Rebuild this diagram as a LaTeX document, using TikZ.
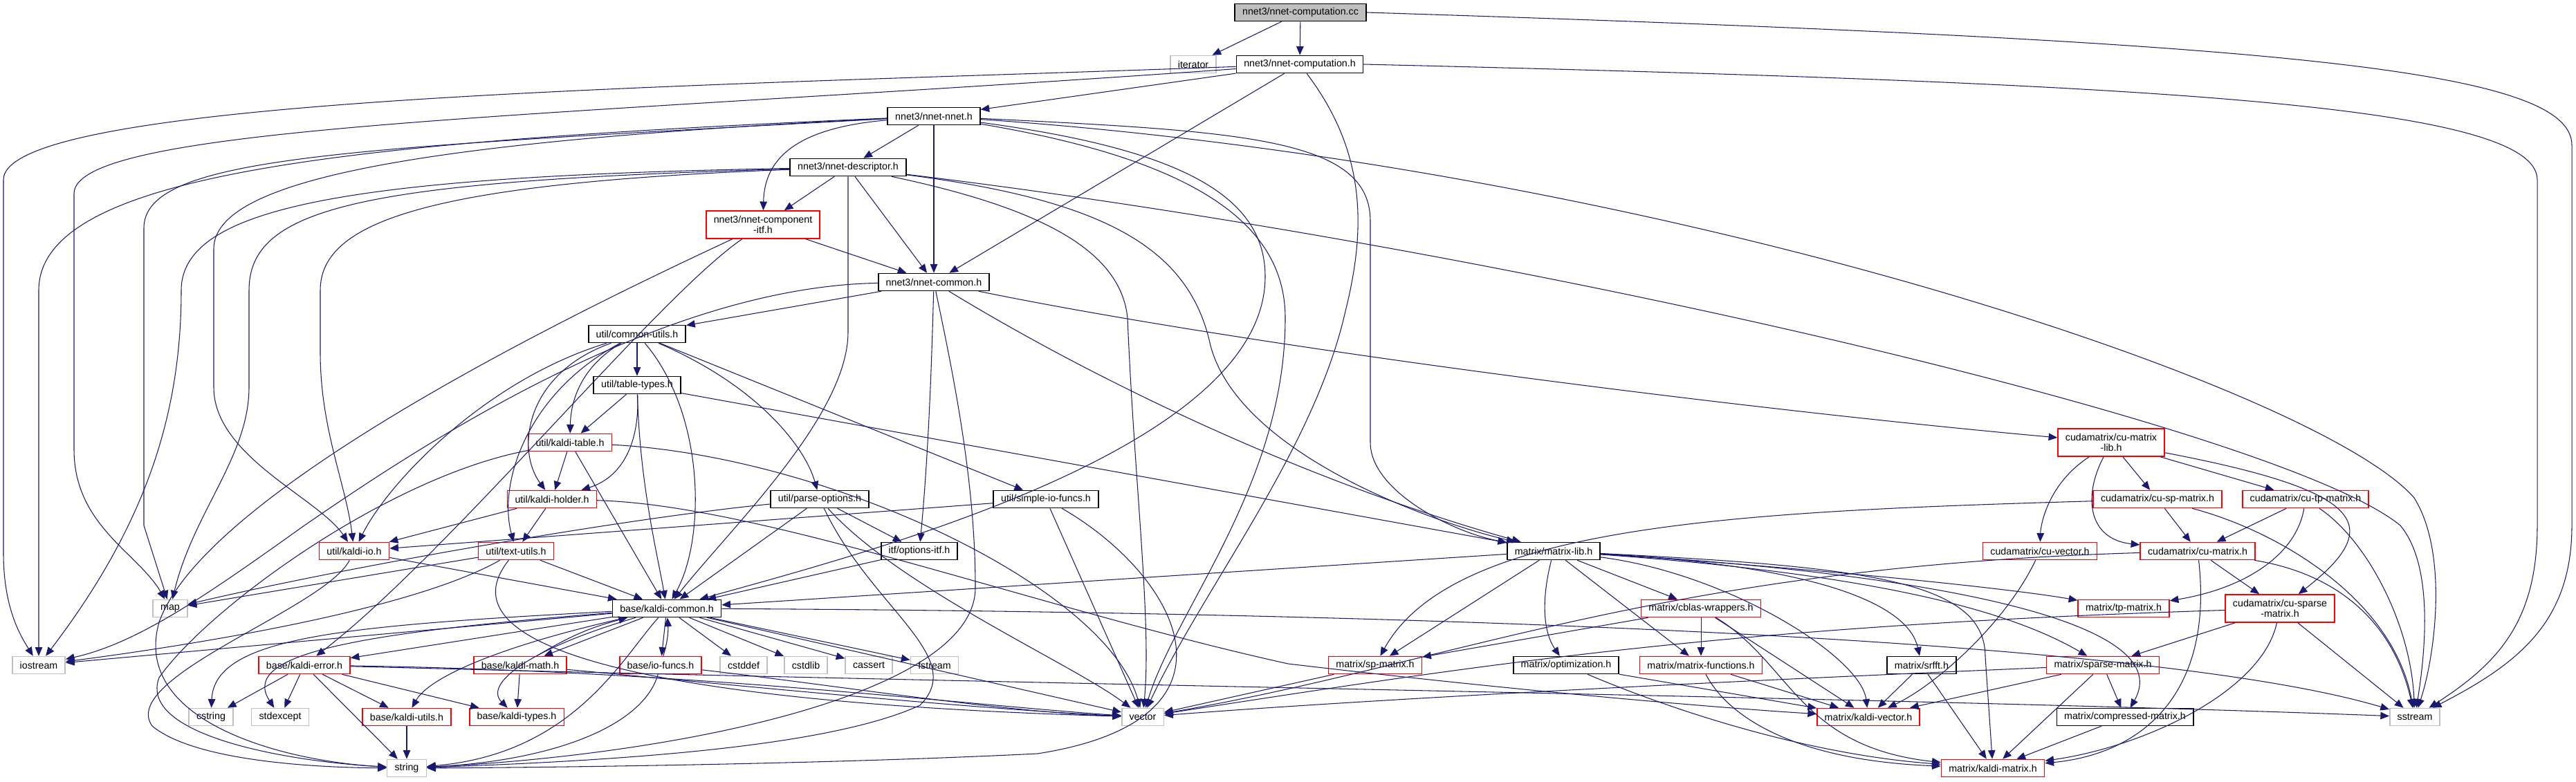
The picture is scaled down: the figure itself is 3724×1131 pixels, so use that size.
\documentclass[tikz,border=0pt]{standalone}
\usepackage{fontspec}
\usetikzlibrary{arrows.meta}
\newfontfamily\dotfont{Liberation Sans}
\definecolor{edgeblue}{HTML}{191970}
\definecolor{sysgray}{HTML}{BFBFBF}

\begin{document}
\begin{tikzpicture}[x=0.01cm, y=-0.01cm,
    hdr/.style={draw=black, line width=0.45pt, fill=white, inner xsep=3.1pt, inner ysep=0pt,
      minimum height=0.25cm, align=center, font=\dotfont\fontsize{4.05pt}{4.3pt}\selectfont},
    trunc/.style={hdr, draw=red},
    sys/.style={hdr, draw=sysgray},
    root/.style={hdr, fill=sysgray},
    tall/.style={minimum height=0.40cm},
    dep/.style={draw=edgeblue, line width=0.3pt, -{Triangle[length=3.6pt, width=3pt]}}]

\useasboundingbox (0,0) rectangle (3724,1131);

%
\node[root] (cc) at (1880,18) {nnet3/nnet-computation.cc};
\node[sys] (iterator) at (1725,93) {iterator};
\node[hdr] (comph) at (1879,93) {nnet3/nnet-computation.h};
\node[hdr] (nnet) at (1350,168) {nnet3/nnet-nnet.h};
\node[hdr] (desc) at (1226,242) {nnet3/nnet-descriptor.h};
\node[trunc, tall] (compitf) at (1103,325) {nnet3/nnet-component\\-itf.h};
\node[hdr] (ncommon) at (1350,408) {nnet3/nnet-common.h};
\node[hdr] (cutils) at (921,483) {util/common-utils.h};
\node[hdr] (ttypes) at (921,557) {util/table-types.h};
\node[trunc] (ktable) at (824,640) {util/kaldi-table.h};
\node[trunc, tall] (cumlib) at (3052,640) {cudamatrix/cu-matrix\\-lib.h};
\node[trunc] (kholder) at (798,722) {util/kaldi-holder.h};
\node[hdr] (popts) at (1185,722) {util/parse-options.h};
\node[hdr] (sio) at (1512,722) {util/simple-io-funcs.h};
\node[trunc] (cusp) at (3119,722) {cudamatrix/cu-sp-matrix.h};
\node[trunc] (cutp) at (3333,722) {cudamatrix/cu-tp-matrix.h};

%
\node[trunc] (kio) at (512,797) {util/kaldi-io.h};
\node[trunc] (tutils) at (746,797) {util/text-utils.h};
\node[hdr] (oitf) at (1329,797) {itf/options-itf.h};
\node[hdr] (mlib) at (2246,797) {matrix/matrix-lib.h};
\node[trunc] (cuvec) at (2949,797) {cudamatrix/cu-vector.h};
\node[trunc] (cumat) at (3177,797) {cudamatrix/cu-matrix.h};
\node[sys] (map) at (246,880) {map};
\node[hdr] (kcommon) at (964,880) {base/kaldi-common.h};
\node[trunc] (cblas) at (2459,880) {matrix/cblas-wrappers.h};
\node[trunc] (tpmat) at (3070,880) {matrix/tp-matrix.h};
\node[trunc, tall] (cusparse) at (3296,880) {cudamatrix/cu-sparse\\-matrix.h};

%
\node[sys] (iostream) at (56,962) {iostream};
\node[trunc] (kerror) at (440,962) {base/kaldi-error.h};
\node[trunc] (kmath) at (752,962) {base/kaldi-math.h};
\node[trunc] (iofuncs) at (955,962) {base/io-funcs.h};
\node[sys] (cstddef) at (1075,962) {cstddef};
\node[sys] (cstdlib) at (1165,962) {cstdlib};
\node[sys] (cassert) at (1256,962) {cassert};
\node[sys] (fstream) at (1351,962) {fstream};
\node[trunc] (spmat) at (1988,962) {matrix/sp-matrix.h};
\node[hdr] (optim) at (2264,962) {matrix/optimization.h};
\node[trunc] (mfunc) at (2459,962) {matrix/matrix-functions.h};
\node[hdr] (srfft) at (2778,962) {matrix/srfft.h};
\node[trunc] (sparse) at (3040,962) {matrix/sparse-matrix.h};

%
\node[sys] (cstring) at (305,1037) {cstring};
\node[sys] (stdexcept) at (405,1037) {stdexcept};
\node[trunc] (kutils) at (588,1037) {base/kaldi-utils.h};
\node[trunc] (ktypes) at (747,1037) {base/kaldi-types.h};
\node[sys] (vector) at (1652,1037) {vector};
\node[trunc] (kvector) at (2701,1037) {matrix/kaldi-vector.h};
\node[hdr] (compr) at (3072,1037) {matrix/compressed-matrix.h};
\node[sys] (sstream) at (3491,1037) {sstream};
\node[sys] (string) at (588,1111) {string};
\node[trunc] (kmatrix) at (2881,1111) {matrix/kaldi-matrix.h};

% nnet3/nnet-computation.cc
\draw[dep] (cc) -- (iterator);
\draw[dep] (cc) -- (comph);
\draw[dep] (cc.east) .. controls (3300,60) and (3718,100) .. (3718,210) -- (3718,760)
    .. controls (3718,900) and (3640,960) .. (sstream);

% nnet3/nnet-computation.h
\draw[dep] (comph) -- (nnet);
\draw[dep] (comph) -- (ncommon);
\draw[dep] (comph.east) .. controls (3100,120) and (3668,150) .. (3668,260) -- (3668,760)
    .. controls (3668,900) and (3610,960) .. (sstream);
\draw[dep] (comph) .. controls (1975,220) and (1975,330) .. (1945,450)
    .. controls (1900,650) and (1740,850) .. (vector);
\draw[dep] (comph) .. controls (1000,125) and (5,140) .. (5,260) -- (5,800)
    .. controls (5,880) and (30,920) .. (iostream);
\draw[dep] (comph) .. controls (800,170) and (107,180) .. (107,280) -- (107,650)
    .. controls (107,760) and (200,800) .. (map);

% nnet3/nnet-nnet.h
\draw[dep] (nnet) -- (desc);
\draw[dep] (nnet) .. controls (1150,185) and (1105,230) .. (compitf);
\draw[dep] (nnet) -- (ncommon);
\draw[dep] (nnet) .. controls (1800,190) and (1981,200) .. (1981,320) -- (1981,640)
    .. controls (1981,710) and (2100,770) .. (mlib);
\draw[dep] (nnet) .. controls (1700,215) and (1829,280) .. (1829,400)
    .. controls (1829,650) and (1250,800) .. (kcommon);
\draw[dep] (nnet) .. controls (1720,230) and (1858,320) .. (1858,460)
    .. controls (1858,700) and (1700,880) .. (vector);
\draw[dep] (nnet) .. controls (2400,240) and (3350,560) .. (3490,720)
    .. controls (3540,800) and (3520,950) .. (sstream);
\draw[dep] (nnet) .. controls (500,205) and (56,250) .. (56,420) -- (iostream);
\draw[dep] (nnet) .. controls (500,215) and (208,225) .. (208,330) -- (208,760) -- (map);
\draw[dep] (nnet) .. controls (600,205) and (309,260) .. (309,360) -- (309,560)
    .. controls (309,660) and (460,720) .. (kio);

% nnet3/nnet-descriptor.h
\draw[dep] (desc) -- (compitf);
\draw[dep] (desc) -- (ncommon);
\draw[dep] (desc) -- (1226,480) .. controls (1226,600) and (1060,760) .. (kcommon);
\draw[dep] (desc) .. controls (1500,300) and (1620,360) .. (1630,460)
    .. controls (1640,700) and (1665,900) .. (vector);
\draw[dep] (desc) .. controls (1600,290) and (1720,360) .. (1750,500)
    .. controls (1790,650) and (2050,750) .. (mlib);
\draw[dep] (desc) .. controls (2200,360) and (3300,620) .. (3470,760)
    .. controls (3520,820) and (3505,950) .. (sstream);
\draw[dep] (desc) .. controls (500,255) and (262,300) .. (262,420)
    .. controls (262,600) and (210,760) .. (iostream);
\draw[dep] (desc) .. controls (520,262) and (360,300) .. (360,420) -- (360,560)
    .. controls (360,660) and (280,740) .. (map);
\draw[dep] (desc) .. controls (620,265) and (463,320) .. (463,420) -- (463,510)
    .. controls (463,620) and (500,700) .. (kio);

% nnet3/nnet-component-itf.h
\draw[dep] (compitf) -- (ncommon);
\draw[dep] (compitf) .. controls (900,420) and (300,700) .. (230,900)
    .. controls (190,1040) and (400,1100) .. (string);
\draw[dep] (compitf) .. controls (950,430) and (650,800) .. (kerror);

% nnet3/nnet-common.h
\draw[dep] (ncommon) -- (cutils);
\draw[dep] (ncommon) .. controls (1800,500) and (2500,590) .. (cumlib);
\draw[dep] (ncommon) .. controls (1600,560) and (1900,700) .. (mlib);
\draw[dep] (ncommon) .. controls (1345,600) and (1338,700) .. (oitf);
\draw[dep] (ncommon) .. controls (1380,550) and (1410,700) .. (1410,850)
    .. controls (1410,1000) and (1000,1090) .. (string);
\draw[dep] (ncommon) .. controls (950,415) and (600,650) .. (440,760)
    .. controls (300,860) and (200,930) .. (iostream);

% util/common-utils.h
\draw[dep] (cutils) -- (ttypes);
\draw[dep] (cutils) .. controls (840,530) and (825,580) .. (ktable);
\draw[dep] (cutils) .. controls (760,540) and (745,650) .. (kholder);
\draw[dep] (cutils) .. controls (1100,560) and (1165,650) .. (popts);
\draw[dep] (cutils) -- (sio);
\draw[dep] (cutils) .. controls (700,550) and (560,700) .. (kio);
\draw[dep] (cutils) .. controls (760,570) and (720,700) .. (tutils);
\draw[dep] (cutils) .. controls (1020,600) and (1020,780) .. (kcommon);

% util/table-types.h
\draw[dep] (ttypes) -- (ktable);
\draw[dep] (ttypes) .. controls (925,640) and (900,690) .. (kholder);
\draw[dep] (ttypes) .. controls (925,700) and (950,800) .. (kcommon);
\draw[dep] (ttypes) -- (mlib);

% util/kaldi-table.h
\draw[dep] (ktable) -- (kholder);
\draw[dep] (ktable) -- (kcommon);
\draw[dep] (ktable) .. controls (560,690) and (300,880) .. (230,980)
    .. controls (200,1060) and (400,1100) .. (string);
\draw[dep] (ktable) .. controls (1200,660) and (1600,850) .. (vector);

% util/kaldi-holder.h
\draw[dep] (kholder) -- (kio);
\draw[dep] (kholder) -- (tutils);
\draw[dep] (kholder) .. controls (1100,730) and (1500,880) .. (1862,960)
    .. controls (2200,1000) and (2500,1025) .. (kvector);

% util/parse-options.h
\draw[dep] (popts) .. controls (900,750) and (500,820) .. (map);
\draw[dep] (popts) -- (oitf);
\draw[dep] (popts) -- (kcommon);
\draw[dep] (popts) .. controls (1300,850) and (1550,960) .. (vector);
\draw[dep] (popts) .. controls (1260,880) and (1400,950) .. (1330,1020)
    .. controls (1200,1080) and (900,1100) .. (string);

% util/simple-io-funcs.h
\draw[dep] (sio) -- (kio);
\draw[dep] (sio) -- (vector);
\draw[dep] (sio) .. controls (1700,830) and (1820,1040) .. (1500,1090)
    .. controls (1200,1105) and (800,1110) .. (string);

% util/kaldi-io.h, util/text-utils.h, itf/options-itf.h
\draw[dep] (kio) -- (kcommon);
\draw[dep] (kio) .. controls (470,880) and (170,980) .. (220,1050)
    .. controls (280,1100) and (450,1110) .. (string);
\draw[dep] (tutils) -- (kcommon);
\draw[dep] (tutils) -- (map);
\draw[dep] (tutils) .. controls (600,880) and (300,930) .. (iostream);
\draw[dep] (tutils) .. controls (640,930) and (900,1015) .. (vector);
\draw[dep] (oitf) -- (kcommon);

% base/kaldi-common.h
\foreach \t in {cstddef, cstdlib, cassert, fstream, iostream, kerror, kmath, iofuncs, vector}
  \draw[dep] (kcommon) -- (\t);
\draw[dep] (kcommon) .. controls (500,905) and (310,920) .. (cstring);
\draw[dep] (kcommon) .. controls (520,915) and (345,945) .. (stdexcept);
\draw[dep] (kcommon) .. controls (720,935) and (620,980) .. (kutils);
\draw[dep] (kcommon) .. controls (760,940) and (700,990) .. (ktypes);
\draw[dep] (kcommon) .. controls (900,950) and (830,1090) .. (string);
\draw[dep] (kcommon) .. controls (2000,885) and (3100,920) .. (sstream);

% base/
\foreach \t in {cstring, stdexcept, kutils, ktypes, string}
  \draw[dep] (kerror) -- (\t);
\draw[dep] (kerror) .. controls (1500,990) and (2800,1010) .. (sstream);
\draw[dep] (kerror) .. controls (1000,970) and (1400,1020) .. (vector);
\draw[dep] (kmath) -- (ktypes);
\draw[dep] (kmath) to[bend left=8] (kcommon);
\draw[dep] (kmath) .. controls (1000,985) and (1400,1025) .. (vector);
\draw[dep] (iofuncs) to[bend right=10] (kcommon);
\draw[dep] (iofuncs) .. controls (930,1050) and (800,1100) .. (string);
\draw[dep] (iofuncs) .. controls (1200,990) and (1450,1030) .. (vector);
\draw[dep] (kutils) -- (string);

% matrix/matrix-lib.h
\foreach \t in {kcommon, spmat, mfunc, cblas}
  \draw[dep] (mlib) -- (\t);
\draw[dep] (mlib) .. controls (2225,880) and (2235,920) .. (optim);
\draw[dep] (mlib) .. controls (2500,830) and (2690,950) .. (kvector);
\draw[dep] (mlib) .. controls (2700,820) and (2870,840) .. (2870,950) -- (kmatrix);
\draw[dep] (mlib) .. controls (2650,820) and (2760,880) .. (srfft);
\draw[dep] (mlib) .. controls (2700,830) and (2900,880) .. (sparse);
\draw[dep] (mlib) .. controls (2800,830) and (3150,900) .. (compr);
\draw[dep] (mlib) .. controls (2600,820) and (2900,850) .. (tpmat);

% matrix/
\draw[dep] (cblas) -- (spmat);
\draw[dep] (cblas) -- (mfunc);
\draw[dep] (cblas) -- (kvector);
\draw[dep] (cblas) .. controls (2590,960) and (2600,1080) .. (kmatrix);
\draw[dep] (spmat) -- (vector);
\draw[dep] (optim) -- (kvector);
\draw[dep] (optim) .. controls (2400,1020) and (2600,1090) .. (kmatrix);
\draw[dep] (mfunc) -- (kvector);
\draw[dep] (mfunc) .. controls (2500,1040) and (2600,1100) .. (kmatrix);
\draw[dep] (srfft) -- (kvector);
\draw[dep] (srfft) -- (kmatrix);
\draw[dep] (sparse) .. controls (2500,985) and (2000,1010) .. (vector);
\draw[dep] (sparse) -- (kvector);
\draw[dep] (sparse) -- (kmatrix);
\draw[dep] (sparse) -- (compr);
\draw[dep] (compr) -- (kmatrix);

% cudamatrix/
\draw[dep] (cumlib) -- (cusp);
\draw[dep] (cumlib) -- (cutp);
\draw[dep] (cumlib) .. controls (2960,700) and (2950,760) .. (cuvec);
\draw[dep] (cumlib) .. controls (3010,720) and (3020,780) .. (cumat);
\draw[dep] (cumlib) .. controls (3420,710) and (3450,760) .. (cusparse);
\draw[dep] (cusp) -- (cumat);
\draw[dep] (cusp) .. controls (2500,740) and (2100,760) .. (spmat);
\draw[dep] (cusp) .. controls (3300,770) and (3460,870) .. (sstream);
\draw[dep] (cutp) -- (cumat);
\draw[dep] (cutp) .. controls (3320,800) and (3250,850) .. (tpmat);
\draw[dep] (cutp) .. controls (3420,780) and (3485,900) .. (sstream);
\draw[dep] (cuvec) .. controls (2900,900) and (2800,990) .. (kvector);
\draw[dep] (cumat) .. controls (2400,820) and (2100,960) .. (vector);
\draw[dep] (cumat) -- (cusparse);
\draw[dep] (cumat) .. controls (3380,830) and (3460,900) .. (sstream);
\draw[dep] (cumat) .. controls (3200,1000) and (3100,1090) .. (kmatrix);
\draw[dep] (cusparse) -- (sparse);
\draw[dep] (cusparse) -- (sstream);
\draw[dep] (cusparse) .. controls (3270,1000) and (3100,1080) .. (kmatrix);
\draw[dep] (cusparse) .. controls (2500,905) and (2150,960) .. (vector);
\end{tikzpicture}
\end{document}
